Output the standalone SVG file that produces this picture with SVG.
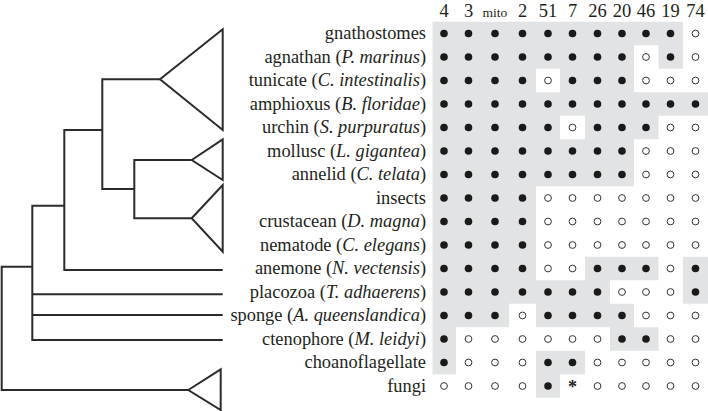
<svg xmlns="http://www.w3.org/2000/svg" xmlns:xlink="http://www.w3.org/1999/xlink" width="708" height="411" viewBox="0 0 708 411">
<style>
.lbl{font-family:"Liberation Serif","Times New Roman",serif;font-size:18.4px;fill:#231f20;text-anchor:end}
.hd{font-family:"Liberation Serif","Times New Roman",serif;font-size:18.5px;fill:#231f20;text-anchor:middle}
.it{font-style:italic}
.br{fill:none;stroke:#2b2b2b;stroke-width:2;stroke-linejoin:miter}
</style>
<defs>
<circle id="f" r="3.8" fill="#1a1a1a"/>
<circle id="o" r="3.4" fill="#fff" stroke="#333" stroke-width="1"/>
</defs>
<rect width="708" height="411" fill="#fff"/>
<path id="shade" fill="#e2e3e4" d="M432.5 21.75H683V45.25H432.5Z M432.5 45.25H634V68.75H432.5Z M658.5 45.25H683V68.75H658.5Z M432.5 68.75H536V92.25H432.5Z M560 68.75H634V92.25H560Z M432.5 92.25H708V115.75H432.5Z M432.5 115.75H560V139.25H432.5Z M585 115.75H658.5V139.25H585Z M432.5 139.25H634V186.25H432.5Z M432.5 186.25H536V280.25H432.5Z M585 256.75H658.5V280.25H585Z M683 256.75H708V303.75H683Z M432.5 280.25H610V303.75H432.5Z M432.5 303.75H509V327.25H432.5Z M536 303.75H634V327.25H536Z M432.5 327.25H456V374.25H432.5Z M610 327.25H658.5V350.75H610Z M536 350.75H585V374.25H536Z M536 374.25H560V397.75H536Z"/>
<g id="header">
<text class="hd" x="444" y="16.7">4</text>
<text class="hd" x="468.5" y="16.7">3</text>
<text class="hd" x="495" y="16.7" style="font-size:13.5px">mito</text>
<text class="hd" x="522.5" y="16.7">2</text>
<text class="hd" x="548" y="16.7">51</text>
<text class="hd" x="572.5" y="16.7">7</text>
<text class="hd" x="597.5" y="16.7">26</text>
<text class="hd" x="622" y="16.7">20</text>
<text class="hd" x="646" y="16.7">46</text>
<text class="hd" x="670.5" y="16.7">19</text>
<text class="hd" x="695.5" y="16.7">74</text>
</g>
<g id="connectors">
<path class="br" d="M160 79.3H102.3V189H134.3 M134.3 160H191.7 M134.3 218.3H191.7 M134.3 159V219.3 M102.3 130H64.3V270H222.7 M64.3 205.7H32.3V340H222.7 M32.3 294.3H222.7 M32.3 315H222.7 M32.3 266.7H1.7V390H188.3"/>
</g>
<g id="clade-deuterostomes"><polygon class="br" points="160,79.3 222.7,29.3 222.7,130"/></g>
<g id="clade-lophotrochozoa"><polygon class="br" points="191.7,160 222.7,139.3 222.7,180"/></g>
<g id="clade-ecdysozoa"><polygon class="br" points="191.7,218.3 222.7,185 222.7,251.7"/></g>
<g id="clade-outgroup"><polygon class="br" points="188.3,390 220.7,369.3 220.7,410"/></g>

<g id="row-gnathostomes" transform="translate(0,33.5)">
<text class="lbl" x="426" y="5.8">gnathostomes</text>
<use href="#f" x="444"/><use href="#f" x="468.5"/><use href="#f" x="495"/><use href="#f" x="522.5"/><use href="#f" x="548"/><use href="#f" x="572.5"/><use href="#f" x="597.5"/><use href="#f" x="622"/><use href="#f" x="646"/><use href="#f" x="670.5"/><use href="#o" x="695.5"/>
</g>
<g id="row-agnathan" transform="translate(0,57)">
<text class="lbl" x="426" y="5.8">agnathan (<tspan class="it">P. marinus</tspan>)</text>
<use href="#f" x="444"/><use href="#f" x="468.5"/><use href="#f" x="495"/><use href="#f" x="522.5"/><use href="#f" x="548"/><use href="#f" x="572.5"/><use href="#f" x="597.5"/><use href="#f" x="622"/><use href="#o" x="646"/><use href="#f" x="670.5"/><use href="#o" x="695.5"/>
</g>
<g id="row-tunicate" transform="translate(0,80.5)">
<text class="lbl" x="426" y="5.8">tunicate (<tspan class="it">C. intestinalis</tspan>)</text>
<use href="#f" x="444"/><use href="#f" x="468.5"/><use href="#f" x="495"/><use href="#f" x="522.5"/><use href="#o" x="548"/><use href="#f" x="572.5"/><use href="#f" x="597.5"/><use href="#f" x="622"/><use href="#o" x="646"/><use href="#o" x="670.5"/><use href="#o" x="695.5"/>
</g>
<g id="row-amphioxus" transform="translate(0,104)">
<text class="lbl" x="426" y="5.8">amphioxus (<tspan class="it">B. floridae</tspan>)</text>
<use href="#f" x="444"/><use href="#f" x="468.5"/><use href="#f" x="495"/><use href="#f" x="522.5"/><use href="#f" x="548"/><use href="#f" x="572.5"/><use href="#f" x="597.5"/><use href="#f" x="622"/><use href="#f" x="646"/><use href="#f" x="670.5"/><use href="#f" x="695.5"/>
</g>
<g id="row-urchin" transform="translate(0,127.5)">
<text class="lbl" x="426" y="5.8">urchin (<tspan class="it">S. purpuratus</tspan>)</text>
<use href="#f" x="444"/><use href="#f" x="468.5"/><use href="#f" x="495"/><use href="#f" x="522.5"/><use href="#f" x="548"/><use href="#o" x="572.5"/><use href="#f" x="597.5"/><use href="#f" x="622"/><use href="#f" x="646"/><use href="#o" x="670.5"/><use href="#o" x="695.5"/>
</g>
<g id="row-mollusc" transform="translate(0,151)">
<text class="lbl" x="426" y="5.8">mollusc (<tspan class="it">L. gigantea</tspan>)</text>
<use href="#f" x="444"/><use href="#f" x="468.5"/><use href="#f" x="495"/><use href="#f" x="522.5"/><use href="#f" x="548"/><use href="#f" x="572.5"/><use href="#f" x="597.5"/><use href="#f" x="622"/><use href="#o" x="646"/><use href="#o" x="670.5"/><use href="#o" x="695.5"/>
</g>
<g id="row-annelid" transform="translate(0,174.5)">
<text class="lbl" x="426" y="5.8">annelid (<tspan class="it">C. telata</tspan>)</text>
<use href="#f" x="444"/><use href="#f" x="468.5"/><use href="#f" x="495"/><use href="#f" x="522.5"/><use href="#f" x="548"/><use href="#f" x="572.5"/><use href="#f" x="597.5"/><use href="#f" x="622"/><use href="#o" x="646"/><use href="#o" x="670.5"/><use href="#o" x="695.5"/>
</g>
<g id="row-insects" transform="translate(0,198)">
<text class="lbl" x="426" y="5.8">insects</text>
<use href="#f" x="444"/><use href="#f" x="468.5"/><use href="#f" x="495"/><use href="#f" x="522.5"/><use href="#o" x="548"/><use href="#o" x="572.5"/><use href="#o" x="597.5"/><use href="#o" x="622"/><use href="#o" x="646"/><use href="#o" x="670.5"/><use href="#o" x="695.5"/>
</g>
<g id="row-crustacean" transform="translate(0,221.5)">
<text class="lbl" x="426" y="5.8">crustacean (<tspan class="it">D. magna</tspan>)</text>
<use href="#f" x="444"/><use href="#f" x="468.5"/><use href="#f" x="495"/><use href="#f" x="522.5"/><use href="#o" x="548"/><use href="#o" x="572.5"/><use href="#o" x="597.5"/><use href="#o" x="622"/><use href="#o" x="646"/><use href="#o" x="670.5"/><use href="#o" x="695.5"/>
</g>
<g id="row-nematode" transform="translate(0,245)">
<text class="lbl" x="426" y="5.8">nematode (<tspan class="it">C. elegans</tspan>)</text>
<use href="#f" x="444"/><use href="#f" x="468.5"/><use href="#f" x="495"/><use href="#f" x="522.5"/><use href="#o" x="548"/><use href="#o" x="572.5"/><use href="#o" x="597.5"/><use href="#o" x="622"/><use href="#o" x="646"/><use href="#o" x="670.5"/><use href="#o" x="695.5"/>
</g>
<g id="row-anemone" transform="translate(0,268.5)">
<text class="lbl" x="426" y="5.8">anemone (<tspan class="it">N. vectensis</tspan>)</text>
<use href="#f" x="444"/><use href="#f" x="468.5"/><use href="#f" x="495"/><use href="#f" x="522.5"/><use href="#o" x="548"/><use href="#o" x="572.5"/><use href="#f" x="597.5"/><use href="#f" x="622"/><use href="#f" x="646"/><use href="#o" x="670.5"/><use href="#f" x="695.5"/>
</g>
<g id="row-placozoa" transform="translate(0,292)">
<text class="lbl" x="426" y="5.8">placozoa (<tspan class="it">T. adhaerens</tspan>)</text>
<use href="#f" x="444"/><use href="#f" x="468.5"/><use href="#f" x="495"/><use href="#f" x="522.5"/><use href="#f" x="548"/><use href="#f" x="572.5"/><use href="#f" x="597.5"/><use href="#o" x="622"/><use href="#o" x="646"/><use href="#o" x="670.5"/><use href="#f" x="695.5"/>
</g>
<g id="row-sponge" transform="translate(0,315.5)">
<text class="lbl" x="426" y="5.8">sponge (<tspan class="it">A. queenslandica</tspan>)</text>
<use href="#f" x="444"/><use href="#f" x="468.5"/><use href="#f" x="495"/><use href="#o" x="522.5"/><use href="#f" x="548"/><use href="#f" x="572.5"/><use href="#f" x="597.5"/><use href="#f" x="622"/><use href="#o" x="646"/><use href="#o" x="670.5"/><use href="#o" x="695.5"/>
</g>
<g id="row-ctenophore" transform="translate(0,339)">
<text class="lbl" x="426" y="5.8">ctenophore (<tspan class="it">M. leidyi</tspan>)</text>
<use href="#f" x="444"/><use href="#o" x="468.5"/><use href="#o" x="495"/><use href="#o" x="522.5"/><use href="#o" x="548"/><use href="#o" x="572.5"/><use href="#o" x="597.5"/><use href="#f" x="622"/><use href="#f" x="646"/><use href="#o" x="670.5"/><use href="#o" x="695.5"/>
</g>
<g id="row-choanoflagellate" transform="translate(0,362.5)">
<text class="lbl" x="426" y="5.8">choanoflagellate</text>
<use href="#f" x="444"/><use href="#o" x="468.5"/><use href="#o" x="495"/><use href="#o" x="522.5"/><use href="#f" x="548"/><use href="#f" x="572.5"/><use href="#o" x="597.5"/><use href="#o" x="622"/><use href="#o" x="646"/><use href="#o" x="670.5"/><use href="#o" x="695.5"/>
</g>
<g id="row-fungi" transform="translate(0,386)">
<text class="lbl" x="426" y="5.8">fungi</text>
<use href="#o" x="444"/><use href="#o" x="468.5"/><use href="#o" x="495"/><use href="#o" x="522.5"/><use href="#f" x="548"/>
<text x="572.5" y="6.5" style="font-family:'Liberation Serif',serif;font-size:18px;font-weight:bold;fill:#1a1a1a;text-anchor:middle">*</text>
<use href="#o" x="597.5"/><use href="#o" x="622"/><use href="#o" x="646"/><use href="#o" x="670.5"/><use href="#o" x="695.5"/>
</g>
</svg>
